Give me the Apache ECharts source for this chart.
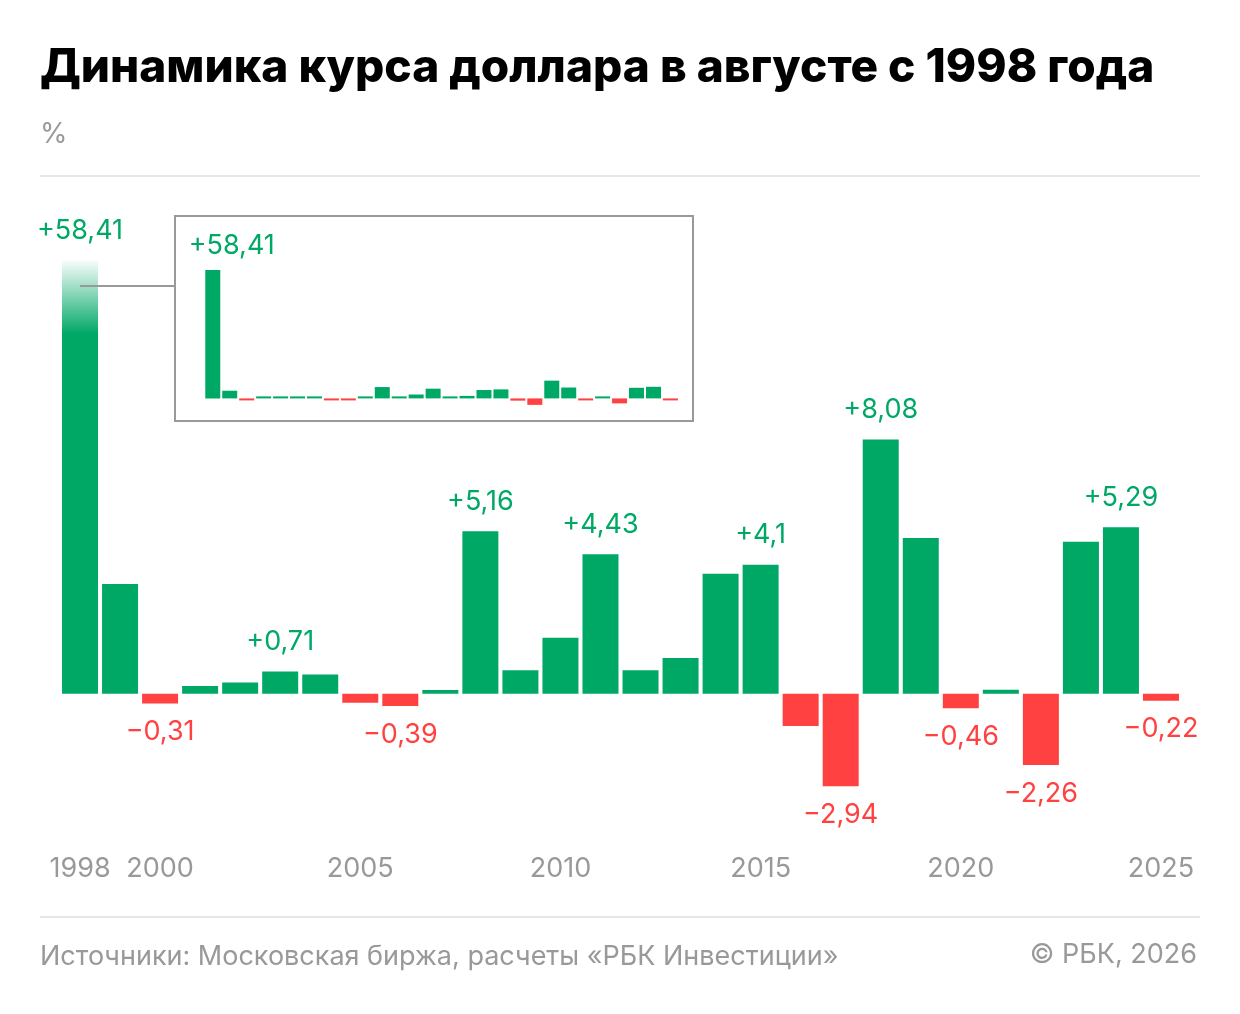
<!DOCTYPE html>
<html>
<head>
<meta charset="utf-8">
<script src="https://cdn.jsdelivr.net/npm/echarts@6/dist/echarts.min.js"></script>
<style>
html,body{margin:0;padding:0;background:#fff;}
#chart{width:1240px;height:1014px;}
</style>
</head>
<body>
<div id="chart"></div>
<script>
const years = [1998,1999,2000,2001,2002,2003,2004,2005,2006,2007,2008,2009,2010,2011,2012,2013,2014,2015,2016,2017,2018,2019,2020,2021,2022,2023,2024,2025];
const changes = [58.41,3.49,-0.31,0.25,0.36,0.71,0.61,-0.28,-0.39,0.12,5.16,0.75,1.78,4.43,0.75,1.14,3.81,4.1,-1.02,-2.94,8.08,4.95,-0.46,0.13,-2.26,4.83,5.29,-0.22];
const labeledYears = [1998,2000,2003,2006,2008,2011,2015,2017,2018,2020,2022,2024,2025];
const tickYears = [1998,2000,2005,2010,2015,2020,2025];

const GREEN = '#00A866';
const RED = '#FF4141';
const FONT = 'Inter, Roboto, sans-serif';

function fmt(v){
  const s = Math.abs(v).toString().replace('.', ',');
  return (v > 0 ? '+' : '\u2212') + s;
}

const mainData = changes.map((v, i) => {
  const pos = v >= 0;
  const item = {
    value: v,
    itemStyle: { color: pos ? GREEN : RED },
    label: {
      show: labeledYears.indexOf(years[i]) >= 0,
      position: pos ? 'top' : 'bottom',
      distance: pos ? 16 : 15,
      color: pos ? GREEN : RED
    }
  };
  if (i === 0) {
    item.itemStyle.color = new echarts.graphic.LinearGradient(0, 0, 0, 1, [
      { offset: 0, color: 'rgba(0,168,102,0.02)' },
      { offset: 0.17, color: GREEN },
      { offset: 1, color: GREEN }
    ]);
  }
  return item;
});

const insetData = changes.map((v, i) => ({
  value: v,
  itemStyle: { color: v >= 0 ? GREEN : RED },
  label: { show: i === 0 }
}));

const chart = echarts.init(document.getElementById('chart'), null, { renderer: 'canvas' });

chart.setOption({
  animation: false,
  backgroundColor: '#fff',
  grid: [
    { left: 60, width: 1121, top: 260, height: 544, containLabel: false },
    { left: 204.3, width: 474.6, top: 270, height: 135, containLabel: false }
  ],
  xAxis: [
    {
      type: 'category', gridIndex: 0, data: years.map(String),
      axisLine: { show: false }, axisTick: { show: false },
      axisLabel: {
        interval: (idx, val) => tickYears.indexOf(+val) >= 0,
        margin: 51, fontSize: 27, color: '#999', fontFamily: FONT
      }
    },
    { type: 'category', gridIndex: 1, data: years.map(String), show: false }
  ],
  yAxis: [
    { type: 'value', gridIndex: 0, min: -3.5, max: 13.78, show: false, splitLine: { show: false } },
    { type: 'value', gridIndex: 1, min: -3, max: 58.41, show: false, splitLine: { show: false } }
  ],
  series: [
    {
      type: 'bar', xAxisIndex: 0, yAxisIndex: 0, barWidth: 36, clip: true,
      data: mainData,
      label: { fontSize: 27, fontFamily: FONT, formatter: p => fmt(p.value) }
    },
    {
      type: 'bar', xAxisIndex: 1, yAxisIndex: 1, barWidth: 15, barMinHeight: 2,
      data: insetData, silent: true,
      label: {
        position: 'top', distance: 11, offset: [19, 0],
        fontSize: 27, fontFamily: FONT, color: GREEN,
        formatter: p => fmt(p.value)
      }
    }
  ],
  graphic: [
    { type: 'text', x: 40, y: 68, style: { text: 'Динамика курса доллара в августе с 1998 года', font: '800 46px ' + FONT, fill: '#000', textAlign: 'left', textVerticalAlign: 'middle' } },
    { type: 'text', x: 40, y: 135, style: { text: '%', font: '400 28px ' + FONT, fill: '#999', textAlign: 'left', textVerticalAlign: 'middle' } },
    { type: 'line', shape: { x1: 40, y1: 176, x2: 1200, y2: 176 }, style: { stroke: '#e6e6e6', lineWidth: 2 } },
    { type: 'line', shape: { x1: 40, y1: 917, x2: 1200, y2: 917 }, style: { stroke: '#e6e6e6', lineWidth: 2 } },
    { type: 'rect', shape: { x: 175, y: 216, width: 518, height: 205 }, style: { stroke: '#999', lineWidth: 2, fill: 'none' }, z: 10 },
    { type: 'line', shape: { x1: 80, y1: 286, x2: 175, y2: 286 }, style: { stroke: '#999', lineWidth: 2 }, z: 10 },
    { type: 'text', x: 40, y: 957, style: { text: 'Источники: Московская биржа, расчеты «РБК Инвестиции»', font: '400 27px ' + FONT, fill: '#999', textAlign: 'left', textVerticalAlign: 'middle' } },
    { type: 'text', x: 1197, y: 955, style: { text: '© РБК, 2026', font: '400 27px ' + FONT, fill: '#999', textAlign: 'right', textVerticalAlign: 'middle' } }
  ]
});
</script>
</body>
</html>
